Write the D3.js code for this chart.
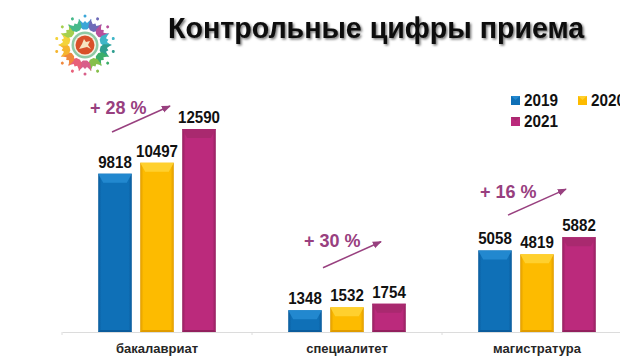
<!DOCTYPE html>
<html>
<head>
<meta charset="utf-8">
<script src="https://cdn.jsdelivr.net/npm/d3@7"></script>
<style>
  html, body { margin: 0; background: #fff; overflow: hidden; }
  text { font-family: "Liberation Sans", Arial, sans-serif; font-weight: bold; }
</style>
</head>
<body>
<svg id="chart" width="620" height="364"></svg>
<script>
const title = "Контрольные цифры приема";
const categories = ["бакалавриат", "специалитет", "магистратура"];
const years = ["2019", "2020", "2021"];
const values2019 = [9818, 1348, 5058];
const values2020 = [10497, 1532, 4819];
const values2021 = [12590, 1754, 5882];
const growthLabels = ["+ 28 %", "+ 30 %", "+ 16 %"];
const logoColors = ["#3aa6d8", "#6f6bb8", "#b8509c", "#3fb6c8", "#2f9e8f", "#3cae6a", "#86bf4a", "#d85f8a",
  "#e8607a", "#f0883c", "#f5b52e", "#f4d33a", "#a5cf4e", "#46b98a"];

const series = { "2019": values2019, "2020": values2020, "2021": values2021 };
const colors = { "2019": "#0f70b7", "2020": "#fdbb00", "2021": "#bb2a7c" };
const darker = { "2019": "#0b5c9c", "2020": "#e09c00", "2021": "#93205e" };
const bevel = { "2019": "#2288cf", "2020": "#ffd02e", "2021": "#a9296f" };
const accent = "#98407f";

const svg = d3.select("#chart");
const defs = svg.append("defs");

const x0 = d3.scaleBand().domain(categories).range([62, 632]);
const x1 = d3.scaleBand().domain(years).range([0, x0.bandwidth()]).paddingInner(0.2).paddingOuter(0.862);
const y = d3.scaleLinear().domain([0, 12590]).range([332, 129]);

// bar body gradients, dark at the edges like the bevelled PowerPoint bars
years.forEach(yr => {
  const g = defs.append("linearGradient").attr("id", "bar" + yr);
  g.append("stop").attr("offset", "0").attr("stop-color", darker[yr]);
  g.append("stop").attr("offset", "0.1").attr("stop-color", colors[yr]);
  g.append("stop").attr("offset", "0.9").attr("stop-color", colors[yr]);
  g.append("stop").attr("offset", "1").attr("stop-color", darker[yr]);
});

const shadow = defs.append("filter").attr("id", "titleShadow")
  .attr("x", "-5%").attr("y", "-30%").attr("width", "110%").attr("height", "160%");
shadow.append("feDropShadow").attr("dx", 1.5).attr("dy", 1.5).attr("stdDeviation", 1.2)
  .attr("flood-color", "#000").attr("flood-opacity", 0.55);

svg.append("text")
  .attr("x", 168).attr("y", 38)
  .attr("font-size", 28.6)
  .attr("fill", "#0a0a0a")
  .attr("filter", "url(#titleShadow)")
  .text(title);

// logo
const logo = svg.append("g").attr("transform", "translate(85,45)");
logo.selectAll("path.petal").data(logoColors).join("path")
  .attr("class", "petal")
  .attr("d", "M-6.5,-26 L-5,-18 L-2,-15.5 L2,-15.5 L5,-18 L6.5,-26 L2,-22 L0,-24 L-2,-22 Z")
  .attr("fill", d => d)
  .attr("transform", (d, i) => `rotate(${i * 360 / logoColors.length})`);
logo.selectAll("circle.dot").data(logoColors).join("circle")
  .attr("class", "dot")
  .attr("r", 1.5)
  .attr("cy", -29)
  .attr("fill", d => d)
  .attr("transform", (d, i) => `rotate(${i * 360 / logoColors.length})`);
logo.append("circle").attr("r", 13.5).attr("fill", "#8fc9a4");
logo.append("circle").attr("r", 11).attr("fill", "#f4f0e0");
logo.append("circle").attr("r", 9.5).attr("fill", "#d9502a");
logo.append("path").attr("d", "M-6,4 L-3,-1 L-1,-6 L1,-3 L5,-4 L3,0 L6,4 L2,2 L-2,3 Z").attr("fill", "#f6e3c0");

// axis
const axis = svg.append("g").attr("transform", "translate(0,332)");
axis.call(d3.axisBottom(x0).tickSize(0).tickPadding(12));
axis.select(".domain").attr("stroke", "#dcdcdc").attr("stroke-width", 1);
axis.selectAll(".tick text")
  .attr("font-size", 13)
  .attr("font-family", '"Liberation Sans", Arial, sans-serif')
  .attr("font-weight", "bold")
  .attr("fill", "#262626");
axis.selectAll("line.boundary").data(categories).join("line")
  .attr("class", "boundary")
  .attr("x1", d => x0(d)).attr("x2", d => x0(d))
  .attr("y1", 0).attr("y2", 3)
  .attr("stroke", "#dcdcdc");

// bars
const groups = svg.selectAll("g.group").data(categories).join("g")
  .attr("class", "group")
  .attr("transform", d => `translate(${x0(d)},0)`);

years.forEach(yr => {
  const w = x1.bandwidth();
  const bars = groups.append("g").datum((d, i) => series[yr][i])
    .attr("transform", `translate(${x1(yr)},0)`);
  bars.append("rect")
    .attr("width", w)
    .attr("y", d => y(d))
    .attr("height", d => y(0) - y(d))
    .attr("fill", `url(#bar${yr})`);
  // top bevel
  bars.append("path")
    .attr("d", d => `M0,${y(d)} H${w} L${w - 5},${y(d) + 9} H5 Z`)
    .attr("fill", bevel[yr]);
  // bottom bevel
  bars.append("path")
    .attr("d", `M0,${y(0)} H${w} L${w - 2},${y(0) - 2} H2 Z`)
    .attr("fill", darker[yr]);
  // digits are taller and narrower than plain Liberation bold
  bars.append("text")
    .attr("x", w / 2)
    .attr("y", d => y(d) - 6)
    .attr("text-anchor", "middle")
    .attr("font-size", 16.5)
    .attr("textLength", d => String(d).length * 8.4)
    .attr("lengthAdjust", "spacingAndGlyphs")
    .attr("fill", "#111")
    .text(d => d);
});

// growth arrows, placed relative to the group and its tallest bar
defs.append("marker").attr("id", "arrowHead")
  .attr("viewBox", "0 0 10 10").attr("refX", 9).attr("refY", 5)
  .attr("markerWidth", 6).attr("markerHeight", 6).attr("orient", "auto")
  .append("path").attr("d", "M0,1 L10,5 L0,9 Z").attr("fill", accent);

const arrowOffset = [
  { dx: 50, dy: 3, textDx: 28, textDy: -15 },
  { dx: 71, dy: -36, textDx: 52, textDy: -57 },
  { dx: 66, dy: -22, textDx: 38, textDy: -39 }
];
const tallest = categories.map((c, i) => d3.max(years, yr => series[yr][i]));
const growth = svg.selectAll("g.growth").data(categories).join("g")
  .attr("class", "growth")
  .attr("transform", (d, i) => `translate(${x0(d)},${y(tallest[i])})`);
growth.append("line")
  .attr("x1", (d, i) => arrowOffset[i].dx).attr("y1", (d, i) => arrowOffset[i].dy)
  .attr("x2", (d, i) => arrowOffset[i].dx + 58).attr("y2", (d, i) => arrowOffset[i].dy - 26)
  .attr("stroke", accent).attr("stroke-width", 1.5)
  .attr("marker-end", "url(#arrowHead)");
growth.append("text")
  .attr("x", (d, i) => arrowOffset[i].textDx).attr("y", (d, i) => arrowOffset[i].textDy)
  .attr("font-size", 18)
  .attr("fill", accent)
  .text((d, i) => growthLabels[i]);

// legend (2020 runs off the right edge in the original slide too)
const legendX = d3.scaleOrdinal().domain(years).range([511, 578, 511]);
const legendY = d3.scaleOrdinal().domain(years).range([96, 96, 117]);
const legend = svg.selectAll("g.legend").data(years).join("g")
  .attr("class", "legend")
  .attr("transform", d => `translate(${legendX(d)},${legendY(d)})`);
legend.append("rect").attr("width", 9).attr("height", 9).attr("fill", d => colors[d]);
legend.append("path").attr("d", "M0,0 H9 L4.5,4 Z").attr("fill", d => bevel[d]);
legend.append("text")
  .attr("x", 13).attr("y", 9.5)
  .attr("font-size", 16.5)
  .attr("textLength", 34)
  .attr("lengthAdjust", "spacingAndGlyphs")
  .attr("fill", "#111")
  .text(d => d);
</script>
</body>
</html>
